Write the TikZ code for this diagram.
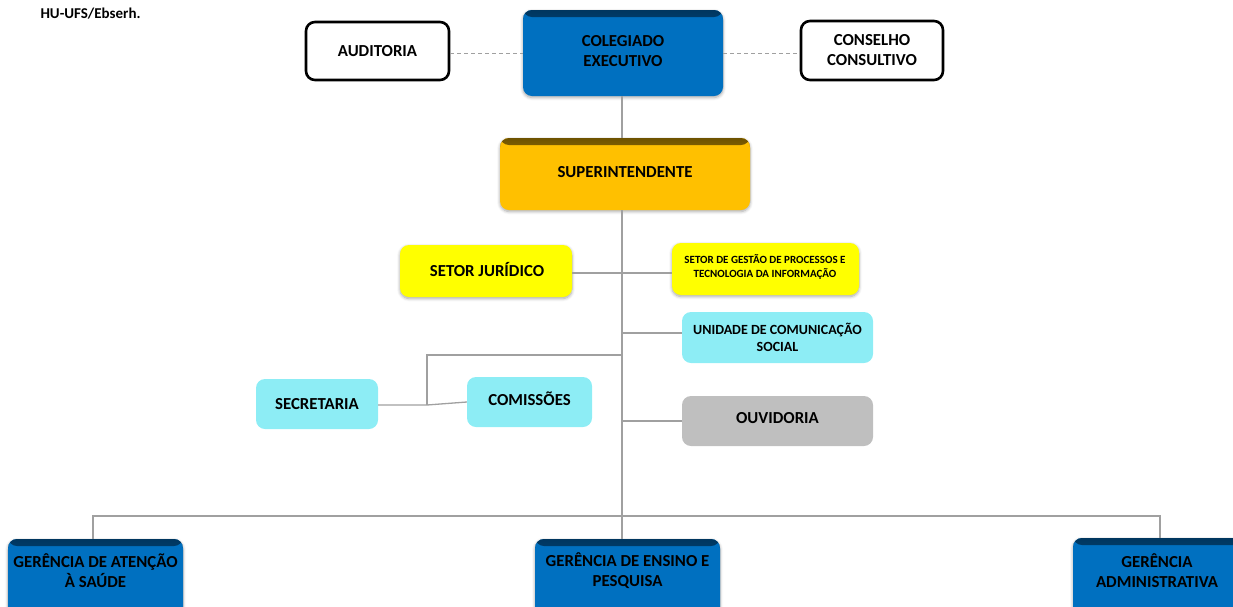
\documentclass[tikz,border=0pt]{standalone}
\usepackage{fontspec}
\setmainfont{Carlito}
\usetikzlibrary{shadows.blur}
\definecolor{cblue}{HTML}{0070C0}
\definecolor{cgold}{HTML}{FFC000}
\definecolor{cyel}{HTML}{FFFF00}
\definecolor{ccyan}{HTML}{8DEDF5}
\definecolor{cgray}{HTML}{BFBFBF}
\definecolor{cline}{HTML}{A0A0A0}
\definecolor{cbluedark}{HTML}{00365F}
\definecolor{cgolddark}{HTML}{6E5200}
\tikzset{
  box/.style={rounded corners=9pt, inner sep=0pt, align=center, font=\fontsize{16.8}{20}\selectfont\bfseries, text=black},
  sbox/.style={box, blur shadow={shadow xshift=0pt, shadow yshift=-1.5pt, shadow blur steps=6, shadow blur radius=3pt, shadow opacity=35}},
  bluebox/.style={sbox, fill=cblue, path picture={\shade[top color=cbluedark, bottom color=cblue] (path picture bounding box.north west) rectangle ([yshift=-7pt]path picture bounding box.north east);}},
  goldbox/.style={sbox, fill=cgold, path picture={\shade[top color=cgolddark, bottom color=cgold] (path picture bounding box.north west) rectangle ([yshift=-7pt]path picture bounding box.north east);}},
  wbox/.style={box, draw=black, line width=2.6pt, fill=white},
  conn/.style={draw=cline, line width=1.3pt},
  dconn/.style={draw=cline, line width=1pt, dash pattern=on 4pt off 3pt},
}
\begin{document}
\begin{tikzpicture}[x=1pt,y=-1pt]
\useasboundingbox (0,0) rectangle (1233,606);
\clip (0,0) rectangle (1233,606);
\node[anchor=west, font=\fontsize{15}{17}\selectfont\bfseries] (title) at (37,14) {HU-UFS/Ebserh.};
% top row
\node[wbox, minimum width=143pt, minimum height=58pt] (aud) at (377.5,51) {AUDITORIA};
\node[bluebox, minimum width=200pt, minimum height=86pt] (col) at (623,53) {};
\node[box] at (623,51) {COLEGIADO\\EXECUTIVO};
\node[wbox, minimum width=142pt, minimum height=59pt] (cons) at (872,50.5) {CONSELHO\\CONSULTIVO};
\node[goldbox, minimum width=250pt, minimum height=72pt] (sup) at (625,174) {};
\node[box] at (625,172) {SUPERINTENDENTE};
% middle
\node[sbox, fill=cyel, minimum width=172pt, minimum height=52pt] (jur) at (486,271) {};
\node[box] at (487,269) {SETOR JURÍDICO};
\node[sbox, fill=cyel, minimum width=187pt, minimum height=52pt] (gest) at (765.5,269) {};
\node[box, font=\fontsize{11}{13.5}\selectfont\bfseries] at (765,267) {SETOR DE GESTÃO DE PROCESSOS E\\TECNOLOGIA DA INFORMAÇÃO};
\node[box, fill=ccyan, minimum width=191pt, minimum height=51pt, font=\fontsize{14}{17}\selectfont\bfseries] (ucs) at (777.5,337.5) {UNIDADE DE COMUNICAÇÃO\\SOCIAL};
\node[box, fill=ccyan, minimum width=122pt, minimum height=50pt] (sec) at (317,404) {SECRETARIA};
\node[box, fill=ccyan, minimum width=125pt, minimum height=50pt] (com) at (529.5,402) {};
\node[box] at (529.5,399) {COMISSÕES};
\node[box, fill=cgray, minimum width=191pt, minimum height=50pt] (ouv) at (777.5,421) {};
\node[box] at (777.5,418) {OUVIDORIA};
% bottom
\node[bluebox, minimum width=175pt, minimum height=90pt] (gas) at (95.5,584) {};
\node[box] at (95.5,571) {GERÊNCIA DE ATENÇÃO\\À SAÚDE};
\node[bluebox, minimum width=185pt, minimum height=90pt] (gep) at (627.5,584) {};
\node[box] at (627.5,571) {GERÊNCIA DE ENSINO E\\PESQUISA};
\node[bluebox, minimum width=175pt, minimum height=92pt] (gad) at (1160.5,584) {};
\node[box] at (1157,571) {GERÊNCIA\\ADMINISTRATIVA};
% coordinates
\coordinate (tA) at (622,96);
\coordinate (tB) at (622,210);
\coordinate (tC) at (622,516);
\coordinate (jS) at (622,273);
\coordinate (uS) at (622,333);
\coordinate (sS) at (622,355);
\coordinate (sK) at (427,355);
\coordinate (sJ) at (427,405);
\coordinate (oS) at (622,421);
\coordinate (bL) at (93,516);
\coordinate (bR) at (1160,516);
% connectors
\draw[dconn] (aud.east |- col.west) -- (col.west);
\draw[dconn] (col.east) -- (cons.west |- col.east);
\draw[conn] (tA) -- (tA |- sup.north);
\draw[conn] (tB) -- (tC) -- (tC |- gep.north);
\draw[conn] (jur.east |- jS) -- (gest.west |- jS);
\draw[conn] (uS) -- (ucs.west |- uS);
\draw[conn] (oS) -- (ouv.west |- oS);
\draw[conn] (sS) -- (sK) -- (sJ);
\draw[conn] (sec.east |- sJ) -- (sJ) -- (com.west);
\draw[conn] (bL |- gas.north) -- (bL) -- (bR) -- (bR |- gad.north);
\end{tikzpicture}
\end{document}
